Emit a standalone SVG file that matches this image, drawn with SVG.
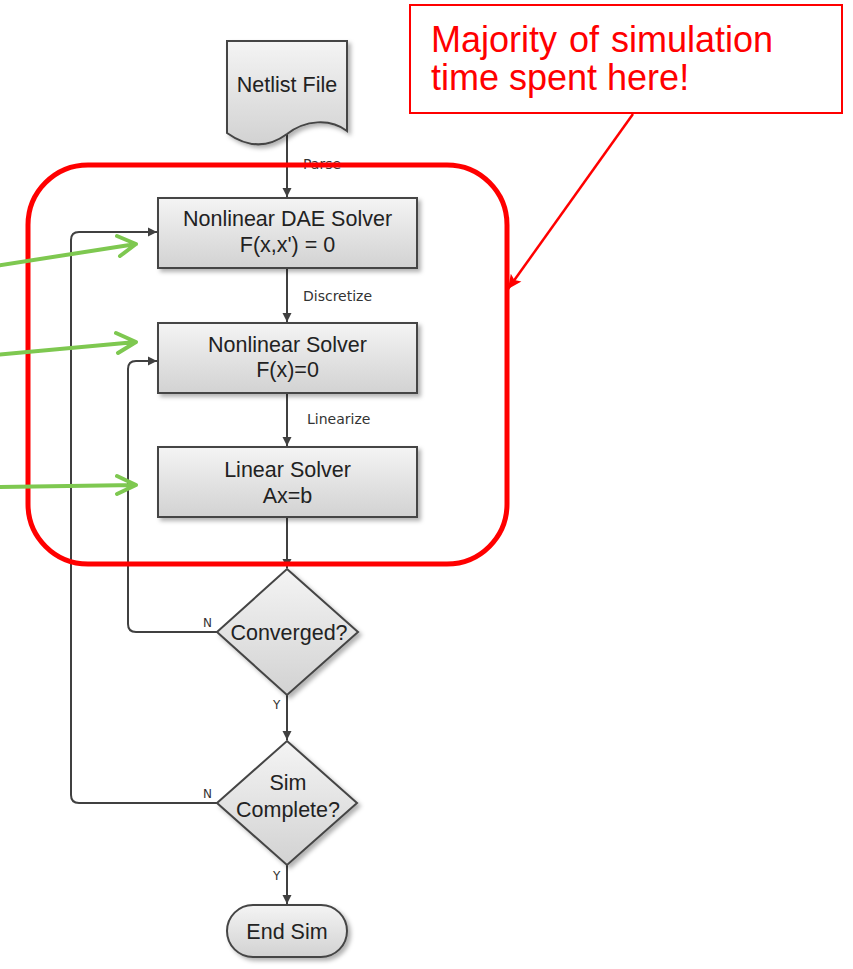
<svg xmlns="http://www.w3.org/2000/svg" width="853" height="969" viewBox="0 0 853 969">
<defs>
<linearGradient id="g" x1="0" y1="0" x2="0" y2="1">
<stop offset="0" stop-color="#f4f4f4"/>
<stop offset="1" stop-color="#d2d2d2"/>
</linearGradient>
<filter id="sh" x="-10%" y="-10%" width="130%" height="140%">
<feDropShadow dx="3" dy="3" stdDeviation="2" flood-color="#000" flood-opacity="0.3"/>
</filter>
<marker id="ah" markerUnits="userSpaceOnUse" markerWidth="10" markerHeight="10" refX="9" refY="5" orient="auto">
<path d="M0,0.5 L9,5 L0,9.5 z" fill="#404040"/>
</marker>
<marker id="rh" markerUnits="userSpaceOnUse" markerWidth="16" markerHeight="16" refX="14" refY="8" orient="auto">
<path d="M0,1.5 L14,8 L0,14.5 L3,8 z" fill="#ff0000"/>
</marker>
<style>
.node{fill:url(#g);stroke:#454545;stroke-width:2;filter:url(#sh)}
.t{font-family:"Liberation Sans",Arial,sans-serif;font-size:21.5px;fill:#222;text-anchor:middle}
.lbl{font-family:"DejaVu Sans",sans-serif;font-size:14px;fill:#333}
.yn{font-family:"DejaVu Sans",sans-serif;font-size:12px;fill:#333}
.c{fill:none;stroke:#404040;stroke-width:2;marker-end:url(#ah)}
.gr{fill:none;stroke:#7ec850;stroke-width:4;stroke-linecap:round;stroke-linejoin:round}
.ct{font-family:"Liberation Sans",Arial,sans-serif;font-size:36px;fill:#ff0000}
</style>
</defs>

<g id="connectors">
<path class="c" d="M287,133 V197"/>
<path class="c" d="M287,268 V322"/>
<path class="c" d="M287,393 V446"/>
<path class="c" d="M287,517 V568"/>
<path class="c" d="M287,695 V740"/>
<path class="c" d="M287,865 V904"/>
<path class="c" d="M217,632 H136 Q128,632 128,624 V369 Q128,361 136,361 H157"/>
<path class="c" d="M217,803 H79 Q71,803 71,795 V240 Q71,232 79,232 H157"/>
<text class="lbl" x="303" y="169">Parse</text>
<text class="lbl" x="303" y="301">Discretize</text>
<text class="lbl" x="307" y="424">Linearize</text>
<text class="yn" x="203" y="627">N</text>
<text class="yn" x="273" y="709">Y</text>
<text class="yn" x="203" y="798">N</text>
<text class="yn" x="273" y="880">Y</text>
</g>

<g id="netlist">
<path class="node" d="M227,41 H347 V131 C330,118 305,120 287,134 C268,148 248,148 227,133 Z"/>
<text class="t" x="287" y="92" font-size="19">Netlist File</text>
</g>

<g id="dae">
<rect class="node" x="158" y="198" width="259" height="70"/>
<text class="t" x="287.5" y="226">Nonlinear DAE Solver</text>
<text class="t" x="287.5" y="252">F(x,x') = 0</text>
</g>

<g id="nlsolver">
<rect class="node" x="158" y="323" width="259" height="70"/>
<text class="t" x="287.5" y="352">Nonlinear Solver</text>
<text class="t" x="287.5" y="377">F(x)=0</text>
</g>

<g id="linsolver">
<rect class="node" x="158" y="447" width="259" height="70"/>
<text class="t" x="287.5" y="477">Linear Solver</text>
<text class="t" x="287.5" y="503">Ax=b</text>
</g>

<g id="converged">
<path class="node" d="M287,569 L358,632 L287,695 L217,632 Z"/>
<text class="t" x="289" y="640" font-size="22">Converged?</text>
</g>

<g id="simcomplete">
<path class="node" d="M287,741 L357,803 L287,865 L217,803 Z"/>
<text class="t" x="288" y="790" font-size="22">Sim</text>
<text class="t" x="288" y="817" font-size="22">Complete?</text>
</g>

<g id="endsim">
<rect class="node" x="227" y="905" width="120" height="52" rx="26"/>
<text class="t" x="287" y="939" font-size="22">End Sim</text>
</g>

<g id="highlight">
<rect x="28" y="165" width="479" height="399" rx="60" fill="none" stroke="#ff0000" stroke-width="5"/>
</g>

<g id="callout">
<rect x="410" y="5" width="432" height="108" fill="#fff" stroke="#ff0000" stroke-width="2"/>
<text class="ct" x="431" y="52" word-spacing="2">Majority of simulation</text>
<text class="ct" x="431" y="90">time spent here!</text>
<path d="M633,114 L508,289" fill="none" stroke="#ff0000" stroke-width="2.5" marker-end="url(#rh)"/>
</g>

<g id="green-arrows">
<path class="gr" d="M-5,266 L136,244 M117,236 L136,244 L120,256"/>
<path class="gr" d="M-5,355 L136,342 M116,333 L136,342 L118,353"/>
<path class="gr" d="M-5,487 L136,485 M117,476 L136,485 L117,494"/>
</g>
</svg>
